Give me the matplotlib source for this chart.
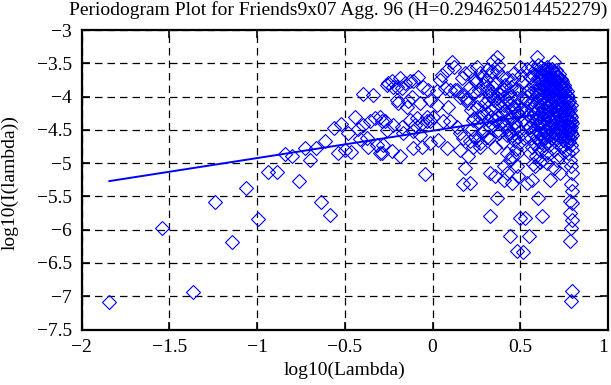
import matplotlib
matplotlib.use('Agg')
import matplotlib.pyplot as plt
import numpy as np

plt.rcParams['font.family'] = ['Liberation Serif', 'DejaVu Serif']
plt.rcParams['font.size'] = 14

H = 0.294625014452279
TITLE = 'Periodogram Plot for Friends9x07 Agg. 96 (H=0.294625014452279)'

# low frequencies, one point per Fourier frequency
low_x = [-1.842, -1.541, -1.365, -1.240, -1.143, -1.064, -0.997, -0.939, -0.888,
         -0.842, -0.801, -0.763, -0.728, -0.696, -0.666, -0.638, -0.612, -0.587,
         -0.563, -0.541, -0.520, -0.500, -0.480, -0.462, -0.444, -0.427, -0.411, -0.395]
low_y = [-7.09, -5.98, -6.93, -5.59, -6.19, -5.37, -5.84, -5.13, -5.13,
         -4.86, -4.90, -5.27, -4.77, -4.96, -4.77, -5.59, -4.66, -5.78,
         -4.47, -4.85, -4.41, -4.80, -4.54, -4.83, -4.30, -4.49, -4.64, -3.96]

# -0.4 .. 0
mid_x = [-0.394, -0.375, -0.365, -0.356, -0.337, -0.327, -0.318, -0.299, -0.299, -0.289,
         -0.289, -0.280, -0.270, -0.261, -0.261, -0.251, -0.232, -0.232, -0.223, -0.223,
         -0.204, -0.204, -0.194, -0.185, -0.185, -0.175, -0.175, -0.166, -0.156, -0.147,
         -0.137, -0.128, -0.128, -0.118, -0.109, -0.109, -0.109, -0.100, -0.090, -0.080,
         -0.071, -0.071, -0.061, -0.061, -0.052, -0.042, -0.033, -0.033, -0.023, -0.014,
         -0.014, -0.014, 0.005]
mid_y = [-4.42, -4.62, -4.75, -4.37, -3.97, -4.32, -4.72, -4.30, -4.85, -4.37,
         -4.85, -4.72, -4.37, -3.82, -4.50, -3.80, -3.77, -4.82, -4.42, -3.85,
         -3.85, -4.05, -4.10, -3.72, -4.89, -3.87, -4.45, -4.55, -3.80, -4.15,
         -4.07, -3.77, -4.35, -4.00, -3.77, -4.52, -4.77, -4.42, -4.32, -3.70,
         -4.10, -4.57, -4.40, -4.75, -3.85, -5.16, -4.30, -4.37, -3.90, -4.05,
         -4.37, -4.70, -4.30]

# 0 .. 0.55
hi_x = [0.024, 0.024, 0.034, 0.043, 0.053, 0.062, 0.072, 0.081, 0.081, 0.091,
        0.100, 0.100, 0.110, 0.120, 0.129, 0.138, 0.138, 0.157, 0.157, 0.157,
        0.167, 0.167, 0.176, 0.186, 0.195, 0.195, 0.205, 0.212, 0.214, 0.214,
        0.218, 0.224, 0.230, 0.233, 0.233, 0.236, 0.242, 0.243, 0.248, 0.253,
        0.253, 0.254, 0.260, 0.266, 0.271, 0.271, 0.271, 0.272, 0.278, 0.281,
        0.284, 0.290, 0.290, 0.296, 0.302, 0.308, 0.309, 0.309, 0.309, 0.309,
        0.314, 0.320, 0.326, 0.328, 0.332, 0.338, 0.338, 0.344, 0.347, 0.350,
        0.356, 0.357, 0.362, 0.367, 0.367, 0.368, 0.374, 0.376, 0.376, 0.380,
        0.386, 0.392, 0.395, 0.398, 0.404, 0.405, 0.405, 0.410, 0.416, 0.422,
        0.424, 0.428, 0.434, 0.440, 0.443, 0.443, 0.446, 0.452, 0.452, 0.458,
        0.462, 0.462, 0.464, 0.470, 0.476, 0.480, 0.480, 0.482, 0.488, 0.490,
        0.494, 0.500, 0.500, 0.506, 0.512, 0.518, 0.524, 0.530, 0.536, 0.542,
        0.548,
        0.305, 0.315, 0.325, 0.335, 0.345, 0.355, 0.365, 0.375, 0.385, 0.395,
        0.405, 0.415, 0.425, 0.435, 0.445, 0.455, 0.465, 0.475, 0.485, 0.495,
        0.505, 0.515, 0.525, 0.535, 0.545]
hi_y = [-3.92, -4.12, -4.65, -3.75, -3.67, -4.37, -3.87, -3.60, -4.77, -4.15,
        -3.90, -4.37, -3.48, -3.55, -3.90, -4.45, -3.90, -4.00, -4.55, -4.80,
        -3.72, -3.97, -4.62, -3.65, -4.05, -4.02, -4.10, -3.85, -3.62, -4.67,
        -4.20, -4.48, -3.95, -4.75, -4.35, -4.32, -4.60, -3.75, -3.78, -3.55,
        -4.65, -4.15, -4.40, -3.90, -3.65, -4.30, -4.75, -4.70, -4.05, -4.55,
        -4.25, -3.70, -3.82, -4.50, -4.10, -3.85, -3.60, -3.92, -4.25, -4.60,
        -4.35, -4.62, -3.98, -4.45, -4.20, -3.62, -3.95, -4.42, -3.47, -4.05,
        -4.75, -4.35, -3.80, -3.40, -4.02, -4.28, -3.52, -4.10, -4.50, -4.55,
        -4.12, -3.92, -4.25, -4.38, -4.68, -3.90, -4.45, -4.00, -4.22, -3.72,
        -4.35, -4.48, -4.08, -4.30, -4.00, -4.55, -3.86, -4.58, -4.30, -4.15,
        -4.15, -4.65, -3.65, -4.40, -4.78, -4.25, -4.45, -4.02, -4.25, -4.60,
        -3.90, -4.52, -3.55, -4.18, -3.78, -4.35, -4.62, -4.05, -3.58, -4.28,
        -4.45,
        -3.75, -4.05, -3.68, -4.30, -3.85, -4.15, -3.62, -3.95, -4.40, -3.70,
        -4.12, -3.82, -4.58, -3.95, -4.20, -3.75, -4.48, -3.88, -4.12, -4.70,
        -3.68, -4.02, -4.20, -4.40, -3.92]

# 0.55 .. 0.8, the dense end
peak_x = [0.555, 0.555, 0.555, 0.555, 0.560, 0.560, 0.560, 0.565, 0.565, 0.565,
          0.570, 0.570, 0.570, 0.575, 0.575, 0.575, 0.580, 0.580, 0.580, 0.585,
          0.585, 0.585, 0.590, 0.590, 0.590, 0.595, 0.595, 0.595, 0.600, 0.600,
          0.600, 0.605, 0.605, 0.605, 0.610, 0.610, 0.610, 0.615, 0.615, 0.615,
          0.620, 0.620, 0.620, 0.625, 0.625, 0.625, 0.625, 0.630, 0.630, 0.630,
          0.635, 0.635, 0.635, 0.635, 0.640, 0.640, 0.640, 0.645, 0.645, 0.645,
          0.645, 0.650, 0.650, 0.650, 0.655, 0.655, 0.655, 0.655, 0.660, 0.660,
          0.660, 0.665, 0.665, 0.665, 0.665, 0.670, 0.670, 0.670, 0.675, 0.675,
          0.675, 0.680, 0.680, 0.680, 0.680, 0.685, 0.685, 0.685, 0.690, 0.690,
          0.690, 0.690, 0.695, 0.695, 0.695, 0.700, 0.700, 0.700, 0.705, 0.705,
          0.705, 0.705, 0.710, 0.710, 0.710, 0.715, 0.715, 0.715, 0.720, 0.720,
          0.720, 0.720, 0.725, 0.725, 0.725, 0.730, 0.730, 0.730, 0.735, 0.735,
          0.735, 0.740, 0.740, 0.740, 0.740, 0.745, 0.745, 0.745, 0.750, 0.750,
          0.750, 0.755, 0.755, 0.755, 0.755, 0.760, 0.760, 0.760, 0.765, 0.765,
          0.765, 0.770, 0.770, 0.770, 0.775, 0.775, 0.775, 0.775, 0.780, 0.780,
          0.780, 0.785, 0.785, 0.785, 0.785, 0.790, 0.790, 0.790, 0.790, 0.794,
          0.794, 0.794]
peak_y = [-3.70, -4.10, -4.45, -4.85, -3.95, -4.30, -4.62, -3.55, -4.18, -4.75,
          -3.82, -4.40, -5.02, -4.05, -4.55, -3.68, -3.90, -4.25, -4.70, -3.60,
          -4.12, -4.48, -3.78, -4.35, -4.90, -3.40, -3.98, -4.60, -3.72, -4.20,
          -4.42, -3.85, -4.05, -4.78, -3.62, -4.30, -4.55, -3.75, -3.95, -4.38,
          -3.55, -4.15, -4.68, -3.68, -3.88, -4.25, -4.95, -3.80, -4.02, -4.45,
          -3.58, -3.92, -4.32, -4.62, -3.70, -4.10, -4.50, -3.65, -3.85, -4.22,
          -4.85, -3.78, -3.98, -4.40, -3.55, -3.90, -4.15, -4.58, -3.70, -4.05,
          -4.30, -3.62, -3.82, -4.20, -4.72, -3.75, -3.95, -4.48, -3.68, -4.08,
          -4.35, -3.58, -3.88, -4.25, -4.62, -3.72, -4.00, -4.42, -3.48, -3.80,
          -4.15, -4.80, -3.65, -3.92, -4.32, -3.76, -4.05, -4.55, -3.60, -3.85,
          -4.20, -4.68, -3.70, -3.98, -4.38, -3.78, -4.10, -4.50, -3.66, -3.90,
          -4.28, -4.88, -3.82, -4.02, -4.45, -3.74, -4.15, -4.60, -3.86, -3.96,
          -4.35, -3.80, -4.08, -4.52, -4.75, -3.90, -4.22, -4.65, -3.85, -4.00,
          -4.40, -3.95, -4.30, -4.58, -4.82, -4.05, -4.18, -4.48, -3.92, -4.35,
          -4.70, -4.10, -4.42, -4.60, -4.00, -4.25, -4.55, -4.85, -4.15, -4.38,
          -4.68, -4.20, -4.50, -4.62, -4.95, -4.30, -4.45, -4.72, -5.05, -4.40,
          -4.58, -4.80]

# more of the dense end, filling between the columns above
fill_x = [0.602, 0.608, 0.612, 0.618, 0.622, 0.628, 0.632, 0.638, 0.642, 0.648,
          0.652, 0.658, 0.662, 0.668, 0.672, 0.678, 0.682, 0.688, 0.692, 0.698,
          0.702, 0.708, 0.712, 0.718, 0.722, 0.728, 0.732, 0.738, 0.742, 0.748,
          0.752, 0.758, 0.762, 0.768, 0.772, 0.778, 0.782, 0.788, 0.792, 0.788,
          0.778, 0.768, 0.758, 0.748, 0.738, 0.728, 0.718, 0.708, 0.698, 0.688,
          0.678, 0.668, 0.658, 0.648, 0.638, 0.628, 0.618, 0.608, 0.598, 0.588]
fill_y = [-3.52, -3.90, -4.12, -3.66, -4.40, -3.74, -4.18, -3.84, -4.28, -3.60,
          -4.08, -3.76, -4.46, -3.88, -4.14, -3.72, -4.02, -3.62, -4.36, -3.84,
          -4.24, -3.78, -4.12, -3.70, -4.04, -3.92, -4.30, -3.76, -4.16, -3.82,
          -4.26, -3.88, -4.34, -3.98, -4.20, -4.06, -4.28, -4.12, -4.36, -4.55,
          -4.46, -4.52, -4.62, -4.44, -4.58, -4.40, -4.56, -4.46, -4.62, -4.52,
          -4.44, -4.58, -4.66, -4.48, -4.72, -4.58, -4.82, -4.66, -4.30, -3.92]

# scattered low values above log10(Lambda) = 0.15
tail_x = [0.186, 0.172, 0.214, 0.205, 0.328, 0.357, 0.366, 0.325, 0.405, 0.423,
          0.452, 0.405, 0.443, 0.480, 0.490, 0.424, 0.452, 0.480, 0.537, 0.566,
          0.585, 0.600, 0.623, 0.442, 0.499, 0.528, 0.550, 0.480, 0.518, 0.670,
          0.690, 0.727, 0.610, 0.650, 0.710, 0.794, 0.790, 0.794, 0.785, 0.794,
          0.785, 0.794, 0.790, 0.785, 0.794, 0.790]
tail_y = [-5.08, -5.32, -5.30, -4.90, -5.15, -5.20, -5.52, -5.80, -5.25, -5.15,
          -5.30, -5.05, -4.95, -5.05, -5.20, -4.85, -4.90, -4.85, -5.30, -5.25,
          -5.05, -5.52, -5.80, -6.10, -5.82, -5.82, -6.09, -6.32, -6.34, -5.25,
          -5.07, -5.15, -4.98, -5.00, -4.95, -5.15, -5.32, -5.42, -5.57, -5.60,
          -5.75, -5.85, -5.97, -6.17, -6.92, -7.07]

xs = np.array(low_x + mid_x + hi_x + peak_x + fill_x + tail_x)
ys = np.array(low_y + mid_y + hi_y + peak_y + fill_y + tail_y)

# fitted line, slope 1-2H, passing the low-frequency end
slope = 1 - 2 * H
intercept = -4.513

fig = plt.figure(figsize=(6.11, 3.85), dpi=100)
ax = fig.add_axes([0.1336, 0.144, 0.8614, 0.778])

ax.plot(xs, ys, linestyle='none', marker='D', markersize=7.2,
        markerfacecolor='none', markeredgecolor='#0000ff', markeredgewidth=0.8)
fx = np.array([xs.min(), xs.max()])
ax.plot(fx, intercept + slope * fx, color='#0000ff', linewidth=1.4)

ax.set_xlim(-2, 1)
ax.set_ylim(-7.5, -3)
ax.set_xticks(np.arange(-2, 1.01, 0.5))
ax.set_yticks(np.arange(-7.5, -2.99, 0.5))
ax.set_xticklabels(['\u22122', '\u22121.5', '\u22121', '\u22120.5', '0', '0.5', '1'])
ax.set_yticklabels(['\u22127.5', '\u22127', '\u22126.5', '\u22126', '\u22125.5', '\u22125',
                    '\u22124.5', '\u22124', '\u22123.5', '\u22123'])
ax.grid(True, color='black', linestyle=(0, (6, 4)), linewidth=0.9)
ax.tick_params(direction='in', length=6, width=1.2, top=True, right=True, pad=7,
               labelsize=14)
for s in ax.spines.values():
    s.set_linewidth(1.6)
# the last x label sits at the figure edge, keep it inside
ax.get_xticklabels()[-1].set_horizontalalignment('right')

ax.set_xlabel('log10(Lambda)', fontsize=14, labelpad=4)
fig.text(10 / 611, 1 - 183 / 385, 'log10(I(lambda))', rotation=90,
         ha='center', va='center', fontsize=14)
fig.text(69 / 611, 1 - 1 / 385, TITLE, ha='left', va='top', fontsize=14)

fig.savefig('out.png', dpi=100)
